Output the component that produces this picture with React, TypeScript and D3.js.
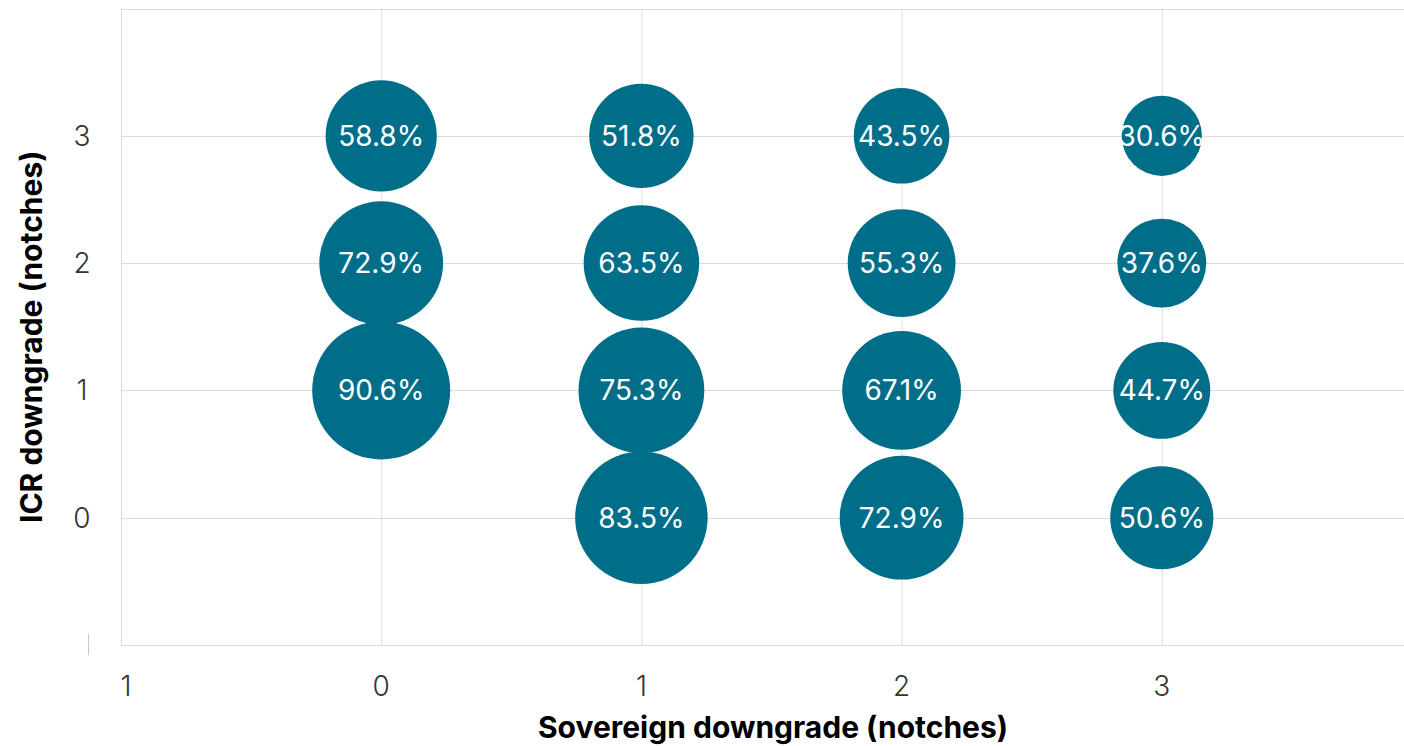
// Bubble grid: probability by sovereign downgrade (x) and ICR downgrade (y).
import * as d3 from "d3";

const SOV = [0, 0, 0, 1, 1, 1, 1, 2, 2, 2, 2, 3, 3, 3, 3];
const ICR = [3, 2, 1, 3, 2, 1, 0, 3, 2, 1, 0, 3, 2, 1, 0];
const VALUES = [58.8, 72.9, 90.6, 51.8, 63.5, 75.3, 83.5, 43.5, 55.3, 67.1, 72.9, 30.6, 37.6, 44.7, 50.6];

const X_TICKS = [-1, 0, 1, 2, 3];
const X_TICK_LABELS = ["1", "0", "1", "2", "3"];
const Y_TICKS = [0, 1, 2, 3];
const Y_GRID = [-1, 0, 1, 2, 3, 4];

const W = 1404;
const H = 746;
const BLUE = "#006e89";
const GRID = "#dcdcdc";
const FONT = "Inter, Roboto, 'Noto Sans', sans-serif";

export default function App() {
  const x = d3.scaleLinear().domain([-1, 4]).range([121, 1422]);
  const y = d3.scaleLinear().domain([-1, 4]).range([645, 8.5]);
  const r = d3.scaleSqrt().domain([0, 90.6]).range([0, 69]);

  const pts = VALUES.map((v, i) => ({ v, sx: SOV[i], iy: ICR[i] }));

  return (
    <svg
      width={W}
      height={H}
      viewBox={`0 0 ${W} ${H}`}
      style={{ position: "absolute", left: 0, top: 0, display: "block", background: "#fff" }}
    >
      {/* grid */}
      <g stroke={GRID} strokeWidth={1}>
        {X_TICKS.map((t) => (
          <line key={"gx" + t} x1={x(t) + 0.5} x2={x(t) + 0.5} y1={y(4)} y2={y(-1)} />
        ))}
        {Y_GRID.map((t) => (
          <line key={"gy" + t} x1={x(-1)} x2={W} y1={Math.round(y(t)) + 0.5} y2={Math.round(y(t)) + 0.5} />
        ))}
        {/* clipped stub of the y = -1 tick label */}
        <line x1={88.5} x2={88.5} y1={y(-1) - 11} y2={y(-1) + 10} stroke="#c8c8c8" />
      </g>

      {/* bubbles */}
      <g fill={BLUE}>
        {pts.map((p, i) => (
          <circle key={i} cx={x(p.sx)} cy={y(p.iy)} r={r(p.v)} />
        ))}
      </g>
      <g fill="#fff" fontFamily={FONT} fontSize={28} fontWeight={400} textAnchor="middle">
        {pts.map((p, i) => (
          <text key={i} x={x(p.sx)} y={y(p.iy)} dy="0.36em">
            {p.v.toFixed(1)}%
          </text>
        ))}
      </g>

      {/* tick labels */}
      <g fill="#333" fontFamily={FONT} fontSize={28} fontWeight={300}>
        {X_TICKS.map((t, i) => (
          <text key={"xt" + t} x={x(t) + (t === -1 ? 5 : 0)} y={686} dy="0.36em" textAnchor="middle">
            {X_TICK_LABELS[i]}
          </text>
        ))}
        {Y_TICKS.map((t) => (
          <text key={"yt" + t} x={82} y={y(t)} dy="0.36em" textAnchor="middle">
            {t}
          </text>
        ))}
      </g>

      {/* axis titles */}
      <text
        x={773}
        y={727}
        dy="0.36em"
        textAnchor="middle"
        fontFamily={FONT}
        fontSize={30}
        fontWeight={700}
        fill="#000"
      >
        Sovereign downgrade (notches)
      </text>
      <text
        transform={`translate(31,${y(1.5) + 10}) rotate(-90)`}
        dy="0.36em"
        textAnchor="middle"
        fontFamily={FONT}
        fontSize={30}
        fontWeight={700}
        fill="#000"
      >
        ICR downgrade (notches)
      </text>
    </svg>
  );
}
